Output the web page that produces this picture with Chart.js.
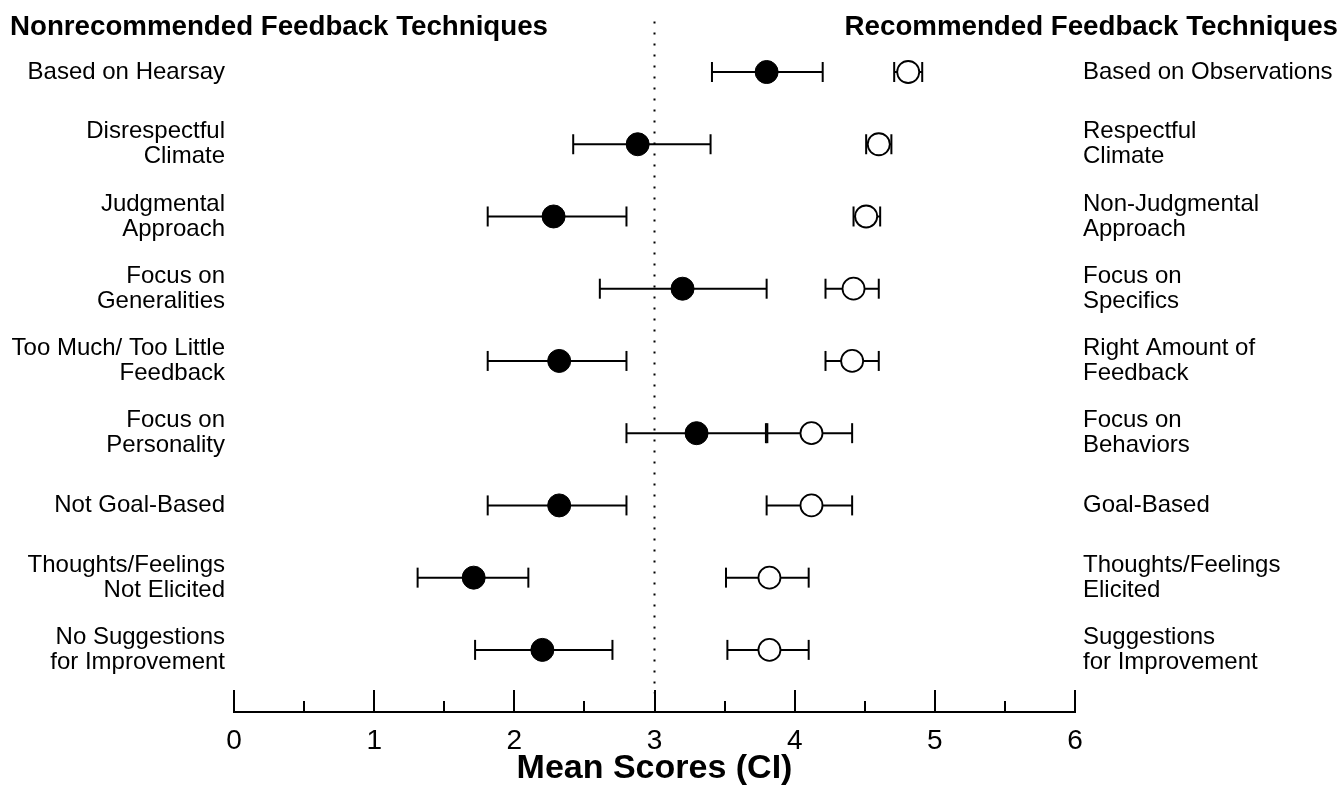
<!DOCTYPE html>
<html>
<head>
<meta charset="utf-8">
<script src="https://cdn.jsdelivr.net/npm/chart.js@4.4.1/dist/chart.umd.min.js"></script>
<style>
body { margin: 0; background: #fff; }
#wrap { position: relative; width: 1340px; height: 786px; }
.head { position: absolute; top: 12px; font: bold 27.7px "Liberation Sans", Arial, sans-serif; line-height: 27px; color: #000; white-space: nowrap; }
</style>
</head>
<body>
<div id="wrap">
    <canvas id="c" width="1340" height="786"></canvas>
    <div class="head" style="left:10px">Nonrecommended Feedback Techniques</div>
    <div class="head" style="right:2px">Recommended Feedback Techniques</div>
</div>
<script>
const leftLabels = [
    'Based on Hearsay',
    ['Disrespectful', 'Climate'],
    ['Judgmental', 'Approach'],
    ['Focus on', 'Generalities'],
    ['Too Much/ Too Little', 'Feedback'],
    ['Focus on', 'Personality'],
    'Not Goal-Based',
    ['Thoughts/Feelings', 'Not Elicited'],
    ['No Suggestions', 'for Improvement']
];
const rightLabels = [
    'Based on Observations',
    ['Respectful', 'Climate'],
    ['Non-Judgmental', 'Approach'],
    ['Focus on', 'Specifics'],
    ['Right Amount of', 'Feedback'],
    ['Focus on', 'Behaviors'],
    'Goal-Based',
    ['Thoughts/Feelings', 'Elicited'],
    ['Suggestions', 'for Improvement']
];

// nonrecommended (filled) and recommended (open) means with CI
const nonMean = [3.80, 2.88, 2.28, 3.20, 2.32, 3.30, 2.32, 1.71, 2.20];
const nonLow  = [3.41, 2.42, 1.81, 2.61, 1.81, 2.80, 1.81, 1.31, 1.72];
const nonHigh = [4.20, 3.40, 2.80, 3.80, 2.80, 3.795, 2.80, 2.10, 2.70];
const recMean = [4.81, 4.60, 4.51, 4.42, 4.41, 4.12, 4.12, 3.82, 3.82];
const recLow  = [4.71, 4.51, 4.42, 4.22, 4.22, 3.805, 3.80, 3.51, 3.52];
const recHigh = [4.91, 4.69, 4.61, 4.60, 4.60, 4.41, 4.41, 4.10, 4.10];

const xMajorTicks = [0, 1, 2, 3, 4, 5, 6];
const xMinorTicks = [0.5, 1.5, 2.5, 3.5, 4.5, 5.5];
const referenceScore = 3;

const FONT = '"Liberation Sans", Arial, sans-serif';

function ciSegments(lo, hi) {
    return lo.flatMap((l, i) => [{ x: l, y: i }, { x: hi[i], y: i }, { x: null, y: null }]);
}
function ciCaps(lo, hi) {
    return lo.map((l, i) => ({ x: l, y: i })).concat(hi.map((h, i) => ({ x: h, y: i })));
}

// tick marks pointing up from the axis line
const axisTicks = {
    id: 'axisTicks',
    afterDraw(chart) {
        const { ctx, scales: { x }, chartArea } = chart;
        ctx.save();
        ctx.strokeStyle = '#000';
        ctx.lineWidth = 2;
        const draw = (v, len) => {
            const px = Math.round(x.getPixelForValue(v));
            ctx.beginPath();
            ctx.moveTo(px, chartArea.bottom);
            ctx.lineTo(px, chartArea.bottom - len);
            ctx.stroke();
        };
        xMajorTicks.forEach(v => draw(v, 22));
        xMinorTicks.forEach(v => draw(v, 11));
        ctx.restore();
    }
};

new Chart(document.getElementById('c'), {
    type: 'scatter',
    data: {
        datasets: [
            {
                data: nonMean.map((m, i) => ({ x: m, y: i })),
                pointRadius: 11.5,
                backgroundColor: '#000',
                borderColor: '#000',
                borderWidth: 1,
                order: 0
            },
            {
                data: recMean.map((m, i) => ({ x: m, y: i })),
                pointRadius: 11,
                backgroundColor: '#fff',
                borderColor: '#000',
                borderWidth: 1.8,
                order: 0
            },
            {
                data: ciSegments(nonLow, nonHigh).concat(ciSegments(recLow, recHigh)),
                showLine: true,
                pointRadius: 0,
                borderColor: '#000',
                borderWidth: 2,
                order: 2
            },
            {
                data: ciCaps(nonLow, nonHigh).concat(ciCaps(recLow, recHigh)),
                pointStyle: 'line',
                rotation: 90,
                pointRadius: 10,
                borderColor: '#000',
                borderWidth: 2,
                order: 1
            },
            {
                data: [{ x: referenceScore, y: -0.7 }, { x: referenceScore, y: 8.6 }],
                showLine: true,
                pointRadius: 0,
                borderColor: '#000',
                borderWidth: 2,
                borderDash: [2, 9],
                order: 3
            }
        ]
    },
    options: {
        responsive: false,
        animation: false,
        layout: { padding: { top: 20, left: 0, right: 0, bottom: 0 } },
        plugins: { legend: { display: false }, tooltip: { enabled: false } },
        scales: {
            x: {
                type: 'linear',
                min: 0,
                max: 6,
                grid: { display: false, drawTicks: false },
                border: { display: true, color: '#000', width: 2 },
                ticks: {
                    stepSize: 1,
                    padding: 12,
                    color: '#000',
                    font: { family: FONT, size: 28 }
                },
                title: {
                    display: true,
                    text: 'Mean Scores (CI)',
                    color: '#000',
                    font: { family: FONT, size: 34, weight: 'bold', lineHeight: 1 },
                    padding: 0
                },
                afterFit(scale) { scale.height = 74; }
            },
            y: {
                type: 'linear',
                position: 'left',
                reverse: true,
                min: -0.72,
                max: 8.86,
                grid: { display: false, drawTicks: false },
                border: { display: false },
                afterBuildTicks(scale) { scale.ticks = leftLabels.map((_, i) => ({ value: i })); },
                ticks: {
                    padding: 9,
                    color: '#000',
                    font: { family: FONT, size: 24, lineHeight: 1.05 },
                    callback: v => leftLabels[v]
                },
                afterFit(scale) { scale.width = 234; scale.paddingTop = 0; scale.paddingBottom = 0; }
            },
            y2: {
                type: 'linear',
                position: 'right',
                reverse: true,
                min: -0.72,
                max: 8.86,
                grid: { display: false, drawTicks: false },
                border: { display: false },
                afterBuildTicks(scale) { scale.ticks = rightLabels.map((_, i) => ({ value: i })); },
                ticks: {
                    padding: 8,
                    color: '#000',
                    font: { family: FONT, size: 24, lineHeight: 1.05 },
                    callback: v => rightLabels[v]
                },
                afterFit(scale) { scale.width = 265; scale.paddingTop = 0; scale.paddingBottom = 0; }
            }
        }
    },
    plugins: [axisTicks]
});
</script>
</body>
</html>
